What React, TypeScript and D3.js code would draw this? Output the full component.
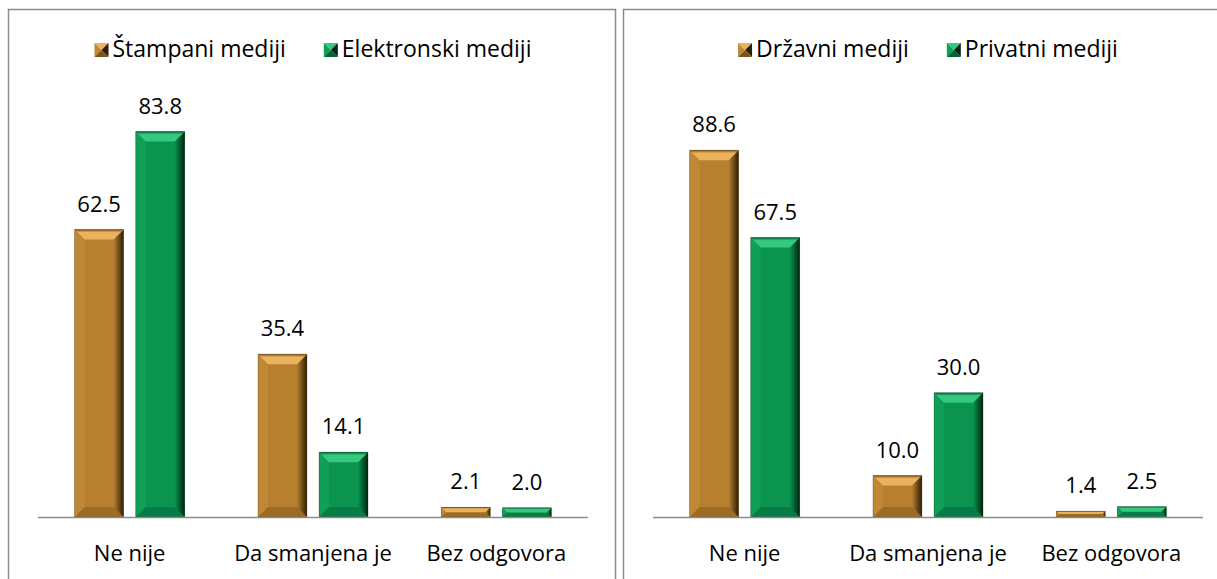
import { useEffect, useRef } from "react";
import * as d3 from "d3";

// ---- data -----------------------------------------------------------------
const categories = ["Ne nije", "Da smanjena je", "Bez odgovora"];

const leftSeries = ["Štampani mediji", "Elektronski mediji"];
const stampani = [62.5, 35.4, 2.1];
const elektronski = [83.8, 14.1, 2.0];

const rightSeries = ["Državni mediji", "Privatni mediji"];
const drzavni = [88.6, 10.0, 1.4];
const privatni = [67.5, 30.0, 2.5];

// colour sets for the bevelled bars: base, top light, left, right dark, bottom
const palettes = [
  { base: "#b7802f", top: "#eab25c", left: "#c08836", right: "#2e1e07", bottom: "#7d5419" },
  { base: "#0a9450", top: "#35c87e", left: "#0f9f56", right: "#00250f", bottom: "#06603a" },
];

const FONT = "'Open Sans', 'Noto Sans', sans-serif";

type Panel = {
  x0: number;
  x1: number;
  border: [number, number];
  series: string[];
  values: number[][];
  yMax: number;
};

const App = () => {
  const svgRef = useRef<SVGSVGElement | null>(null);

  useEffect(() => {
    document.body.style.margin = "0";
    const svg = d3.select(svgRef.current);
    svg.selectAll("*").remove();

    const W = 1217;
    const H = 579;
    const axisY = 517;
    const plotTop = 103;

    svg.append("rect").attr("width", W).attr("height", H).attr("fill", "#fff");

    const defs = svg.append("defs");
    palettes.forEach((pal, i) => {
      // right-hand shading, light at inner edge -> dark at outer edge
      const gr = defs.append("linearGradient").attr("id", `rg${i}`).attr("x1", 0).attr("x2", 1).attr("y1", 0).attr("y2", 0);
      gr.append("stop").attr("offset", 0).attr("stop-color", pal.base);
      gr.append("stop").attr("offset", 1).attr("stop-color", pal.right);
      const gt = defs.append("linearGradient").attr("id", `tg${i}`).attr("x1", 0).attr("x2", 0).attr("y1", 0).attr("y2", 1);
      gt.append("stop").attr("offset", 0).attr("stop-color", pal.bottom);
      gt.append("stop").attr("offset", 0.3).attr("stop-color", pal.top);
      gt.append("stop").attr("offset", 1).attr("stop-color", pal.top);
    });

    const panels: Panel[] = [
      { x0: 38, x1: 588, border: [8.5, 615.5], series: leftSeries, values: [stampani, elektronski], yMax: 90 },
      { x0: 653, x1: 1203, border: [623.5, 1240], series: rightSeries, values: [drzavni, privatni], yMax: 100 },
    ];

    // bevelled bar ------------------------------------------------------------
    const drawBar = (
      g: d3.Selection<SVGGElement, unknown, null, undefined>,
      x: number,
      y: number,
      w: number,
      h: number,
      si: number,
      bev: number,
    ) => {
      const pal = palettes[si];
      const b = Math.min(bev, h / 2, w / 2);
      const pts = (arr: number[][]) => arr.map((p) => p.join(",")).join(" ");
      g.append("rect").attr("x", x).attr("y", y).attr("width", w).attr("height", h).attr("fill", pal.base);
      g.append("polygon")
        .attr("points", pts([[x, y], [x + b, y + b], [x + b, y + h - b], [x, y + h]]))
        .attr("fill", pal.left);
      g.append("polygon")
        .attr("points", pts([[x + w, y], [x + w, y + h], [x + w - b, y + h - b], [x + w - b, y + b]]))
        .attr("fill", `url(#rg${si})`);
      g.append("polygon")
        .attr("points", pts([[x, y + h], [x + w, y + h], [x + w - b, y + h - b], [x + b, y + h - b]]))
        .attr("fill", pal.bottom)
        .attr("opacity", 0.45);
      g.append("polygon")
        .attr("points", pts([[x, y], [x + w, y], [x + w - b, y + b], [x + b, y + b]]))
        .attr("fill", `url(#tg${si})`);
      g.append("rect")
        .attr("x", x)
        .attr("y", y)
        .attr("width", w)
        .attr("height", h)
        .attr("fill", "none")
        .attr("stroke", pal.right)
        .attr("stroke-opacity", 0.35)
        .attr("stroke-width", 0.8);
    };

    panels.forEach((p) => {
      // panel frame
      svg
        .append("path")
        .attr("d", `M${p.border[0]},${H + 5}V9.5H${p.border[1]}V${H + 5}`)
        .attr("fill", "none")
        .attr("stroke", "#8c8c8c")
        .attr("stroke-width", 1.5);

      const g = svg.append("g");

      const x = d3.scaleBand<string>().domain(categories).range([p.x0, p.x1]);
      const xs = d3
        .scaleBand<string>()
        .domain(p.series)
        .range([0, x.bandwidth()])
        .paddingInner(0.2)
        .paddingOuter(0.6);
      const y = d3.scaleLinear().domain([0, p.yMax]).range([axisY, plotTop]);

      // bars + value labels
      p.series.forEach((s, si) => {
        p.values[si].forEach((v, ci) => {
          const bx = (x(categories[ci]) ?? 0) + (xs(s) ?? 0);
          const bw = xs.bandwidth();
          const top = y(v);
          drawBar(g, bx, top, bw, axisY - top, si, 10);
          g.append("text")
            .attr("x", bx + bw / 2)
            .attr("y", top - 18)
            .attr("text-anchor", "middle")
            .attr("font-family", FONT)
            .attr("font-size", 22)
            .attr("fill", "#000")
            .text(v.toFixed(1));
        });
      });

      // axis line
      g.append("line")
        .attr("x1", p.x0)
        .attr("x2", p.x1)
        .attr("y1", axisY + 0.5)
        .attr("y2", axisY + 0.5)
        .attr("stroke", "#8c8c8c")
        .attr("stroke-width", 1.5);

      // category labels
      categories.forEach((c) => {
        g.append("text")
          .attr("x", (x(c) ?? 0) + x.bandwidth() / 2)
          .attr("y", 561)
          .attr("text-anchor", "middle")
          .attr("font-family", FONT)
          .attr("font-size", 22)
          .attr("fill", "#000")
          .text(c);
      });

      // legend, centred over the plot
      const lg = g.append("g");
      let cx = 0;
      const marker = 14;
      const gap = 38;
      p.series.forEach((s, si) => {
        const pal = palettes[si];
        const m = lg.append("g").attr("transform", `translate(${cx},${57 - marker})`);
        const c = marker / 2;
        m.append("polygon").attr("points", `0,0 ${marker},0 ${c},${c}`).attr("fill", pal.top);
        m.append("polygon").attr("points", `0,0 0,${marker} ${c},${c}`).attr("fill", pal.left);
        m.append("polygon").attr("points", `${marker},0 ${marker},${marker} ${c},${c}`).attr("fill", pal.right);
        m.append("polygon").attr("points", `0,${marker} ${marker},${marker} ${c},${c}`).attr("fill", pal.bottom);
        const t = lg
          .append("text")
          .attr("x", cx + marker + 4)
          .attr("y", 57)
          .attr("font-family", FONT)
          .attr("font-size", 23)
          .attr("fill", "#000")
          .text(s);
        const tw = (t.node() as SVGTextElement).getComputedTextLength();
        cx += marker + 4 + tw + gap;
      });
      const total = cx - gap;
      lg.attr("transform", `translate(${(p.x0 + p.x1) / 2 - total / 2},0)`);
    });
  }, []);

  return <svg ref={svgRef} width={1217} height={579} style={{ display: "block" }} />;
};

export default App;
